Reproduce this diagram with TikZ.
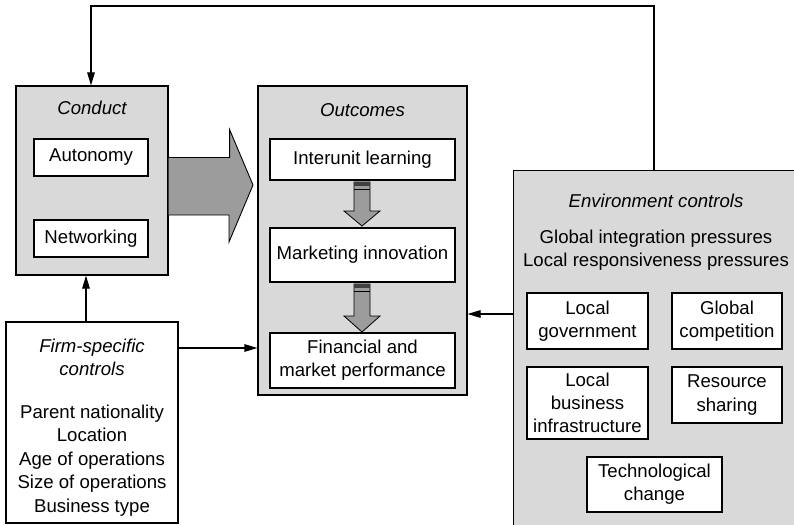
\documentclass[tikz,border=0pt]{standalone}
\usepackage{fontspec}
\setmainfont{Liberation Sans}
\usetikzlibrary{arrows.meta,calc}
\definecolor{panel}{HTML}{D9D9D9}
\definecolor{arrowgray}{HTML}{9C9C9C}
\begin{document}
\begin{tikzpicture}[x=1pt,y=-1pt,
  font=\fontsize{18.6}{23.3}\selectfont,
  panelbox/.style={draw, line width=1.1pt, fill=panel, inner sep=0pt},
  itembox/.style={draw, line width=1.1pt, fill=white, inner sep=0pt, align=center},
  title/.style={font=\fontsize{18.6}{23.3}\selectfont\itshape, inner sep=0pt, align=center},
  plain/.style={inner sep=0pt, align=center},
  link/.style={line width=1.1pt, -{Triangle[length=13pt,width=7.5pt]}},
  blockarrow/.style={draw, line width=0.9pt, fill=arrowgray, line join=miter}
]
\useasboundingbox (0,0) rectangle (794,524);
\clip (0,0) rectangle (794,524);

% Conduct panel
\node[panelbox, minimum width=152pt, minimum height=189pt] (conduct) at (92,180.5) {};
\node[title] (conductT) at (92,108) {Conduct};
\node[itembox, minimum width=114pt, minimum height=37pt] (autonomy) at (91,157.5) {Autonomy};
\node[itembox, minimum width=114pt, minimum height=37pt] (networking) at (91,238.5) {Networking};

% Outcomes panel
\node[panelbox, minimum width=209pt, minimum height=309pt] (outcomes) at (362.5,240.5) {};
\node[title] (outcomesT) at (362.5,110) {Outcomes};
\node[itembox, minimum width=185pt, minimum height=41pt] (interunit) at (362.5,159.5) {Interunit learning};
\node[itembox, minimum width=185pt, minimum height=54pt] (marketing) at (362.5,255) {Marketing innovation};
\node[itembox, minimum width=185pt, minimum height=55pt] (financial) at (362.5,360.5) {Financial and\\market performance};

% Firm-specific controls
\node[itembox, minimum width=172pt, minimum height=201pt] (firm) at (92,422.5) {};
\node[title] (firmT) at (92,357) {Firm-specific\\controls};
\node[plain, font=\fontsize{18.6}{23.6}\selectfont] (firmL) at (92,460.5) {Parent nationality\\Location\\Age of operations\\Size of operations\\Business type};

% Environment controls
\node[panelbox, minimum width=290pt, minimum height=362pt, anchor=north west] (env) at (513,170) {};
\node[title] (envT) at (656,201) {Environment controls};
\node[plain, font=\fontsize{18.6}{23}\selectfont] (envP) at (656,250) {Global integration pressures\\Local responsiveness pressures};
\node[itembox, minimum width=121pt, minimum height=56pt] (localgov) at (587.5,321) {Local\\government};
\node[itembox, minimum width=110pt, minimum height=56pt] (globalcomp) at (727,321) {Global\\competition};
\node[itembox, minimum width=121pt, minimum height=72pt] (localbus) at (587.5,403) {Local\\business\\infrastructure};
\node[itembox, minimum width=110pt, minimum height=56pt] (resource) at (727,395) {Resource\\sharing};
\node[itembox, minimum width=135pt, minimum height=55pt] (tech) at (654.5,484.5) {Technological\\change};

% Broad arrow from Conduct to Outcomes
\draw[blockarrow]
  ($(conduct.east)+(0,-23)$) -- ++(61,0) -- ++(0,-28) -- (253,185) -- (229,242)
  -- ++(0,-27) -- ($(conduct.east)+(0,34.5)$);

% Narrow striped arrows between outcome stages
\foreach \from/\top/\hs/\tip in {interunit/182/211/226, marketing/284/316/332}{
  \draw[blockarrow, line width=0.8pt]
    (354,\top) -- (370,\top) -- (370,\hs) -- (380,\hs) -- (362,\tip)
    -- (344,\hs) -- (354,\hs) -- cycle;
  \fill[black!75] (354,\top) rectangle (370,\top+3.5);
  \draw[line width=0.8pt] (354,\top+7) -- (370,\top+7);
}

% Connectors
\draw[link] ([xshift=-6pt]firm.north) -- ([xshift=-6pt]firm.north |- conduct.south);
\draw[link] (firm.east |- 0,348) -- (outcomes.west |- 0,348);
\draw[link] (env.west |- 0,314) -- (outcomes.east |- 0,314);
\coordinate (fbA) at (654,6);
\coordinate (fbB) at (91,6);
\draw[link] (env.north -| fbA) -- (fbA) -- (fbB) -- (conduct.north -| fbB);
\end{tikzpicture}
\end{document}
